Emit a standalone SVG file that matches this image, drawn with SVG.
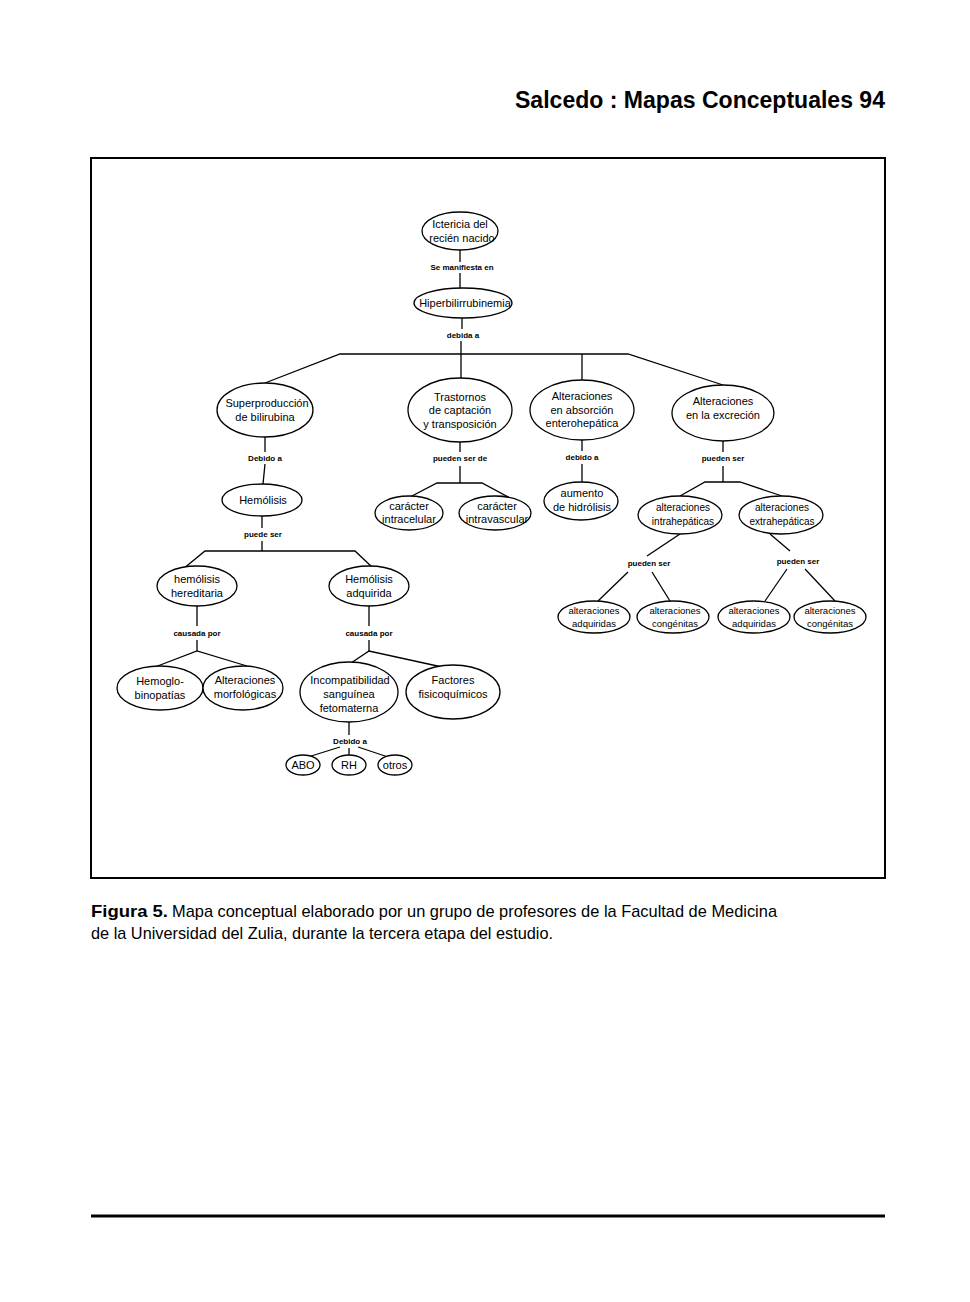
<svg xmlns="http://www.w3.org/2000/svg" width="970" height="1302" viewBox="0 0 970 1302">
<style>
.bg{fill:#fff}
ellipse{fill:#fff;stroke:#000;stroke-width:1.3}
.c line,.c polyline{stroke:#000;stroke-width:1.3;fill:none}
text{font-family:"Liberation Sans",Arial,sans-serif;fill:#000}
.n text{font-size:11px;text-anchor:middle}
.s text{font-size:9.5px}
.t text{font-size:10px}
.lb text{font-size:8px;font-weight:bold;text-anchor:middle}
</style>
<rect class="bg" x="0" y="0" width="970" height="1302"/>
<text x="885" y="108" font-size="23" font-weight="bold" text-anchor="end" textLength="370" lengthAdjust="spacingAndGlyphs">Salcedo : Mapas Conceptuales 94</text>
<rect x="91" y="158" width="794" height="720" fill="none" stroke="#000" stroke-width="2"/>
<g class="c" id="connectors">
<line x1="460" y1="250" x2="460" y2="262"/>
<line x1="460" y1="273" x2="460" y2="288"/>
<line x1="462" y1="318" x2="462" y2="329"/>
<line x1="461" y1="341" x2="461" y2="378"/>
<polyline points="265,383 340,354 628,354 723,385"/>
<line x1="582" y1="354" x2="582" y2="380"/>
<line x1="265" y1="437" x2="265" y2="452"/>
<line x1="265" y1="464" x2="263" y2="484"/>
<line x1="262" y1="516" x2="262" y2="528"/>
<line x1="262" y1="541" x2="262" y2="551"/>
<polyline points="183,569 205,551 355,551 372,567"/>
<line x1="197" y1="606" x2="197" y2="626"/>
<line x1="197" y1="640" x2="197" y2="651"/>
<polyline points="155,667 197,651 247,666"/>
<line x1="369" y1="606" x2="369" y2="626"/>
<line x1="369" y1="640" x2="369" y2="651"/>
<polyline points="351,663 369,651 442,667"/>
<line x1="349" y1="722" x2="349" y2="735"/>
<line x1="340" y1="747" x2="308" y2="757"/>
<line x1="349" y1="748" x2="349" y2="755"/>
<line x1="358" y1="747" x2="388" y2="757"/>
<line x1="460" y1="442" x2="460" y2="452"/>
<line x1="460" y1="466" x2="460" y2="483"/>
<polyline points="410,497 437,483 482,483 510,498"/>
<line x1="582" y1="440" x2="582" y2="451"/>
<line x1="582" y1="464" x2="582" y2="482"/>
<line x1="723" y1="441" x2="723" y2="452"/>
<line x1="723" y1="466" x2="723" y2="482"/>
<polyline points="680,496 705,482 740,482 782,496"/>
<line x1="680" y1="534" x2="647" y2="556"/>
<line x1="628" y1="572" x2="598" y2="601"/>
<line x1="652" y1="572" x2="670" y2="601"/>
<line x1="770" y1="534" x2="790" y2="551"/>
<line x1="787" y1="569" x2="765" y2="601"/>
<line x1="805" y1="569" x2="835" y2="601"/>
</g>
<g class="lb" id="labels">
<text x="462" y="270">Se manifiesta en</text>
<text x="463" y="338">debida a</text>
<text x="265" y="461">Debido a</text>
<text x="460" y="461">pueden ser de</text>
<text x="582" y="460">debido a</text>
<text x="723" y="461">pueden ser</text>
<text x="263" y="537">puede ser</text>
<text x="197" y="636">causada por</text>
<text x="369" y="636">causada por</text>
<text x="350" y="744">Debido a</text>
<text x="649" y="566">pueden ser</text>
<text x="798" y="564">pueden ser</text>
</g>
<g class="n">
<g id="n-ictericia"><ellipse cx="460" cy="231" rx="38" ry="19"/><text x="460" y="228">Ictericia del</text><text x="462" y="242">recién nacido</text></g>
<g id="n-hiper"><ellipse cx="463" cy="303" rx="49" ry="15"/><text x="465" y="307">Hiperbilirrubinemia</text></g>
<g id="n-super"><ellipse cx="265" cy="410" rx="48" ry="27"/><text x="267" y="407">Superproducción</text><text x="265" y="421">de bilirubina</text></g>
<g id="n-trast"><ellipse cx="460" cy="410" rx="52" ry="32"/><text x="460" y="401">Trastornos</text><text x="460" y="414">de captación</text><text x="460" y="428">y transposición</text></g>
<g id="n-absor"><ellipse cx="582" cy="410" rx="52" ry="30"/><text x="582" y="400">Alteraciones</text><text x="582" y="414">en absorción</text><text x="582" y="427">enterohepática</text></g>
<g id="n-excr"><ellipse cx="723" cy="413" rx="51" ry="28"/><text x="723" y="405">Alteraciones</text><text x="723" y="419">en la excreción</text></g>
<g id="n-hemolisis"><ellipse cx="262" cy="500" rx="40" ry="16"/><text x="263" y="504">Hemólisis</text></g>
<g id="n-hered"><ellipse cx="197" cy="586" rx="40" ry="20"/><text x="197" y="583">hemólisis</text><text x="197" y="597">hereditaria</text></g>
<g id="n-adq"><ellipse cx="369" cy="586" rx="40" ry="20"/><text x="369" y="583">Hemólisis</text><text x="369" y="597">adquirida</text></g>
<g id="n-hemoglo"><ellipse cx="160" cy="688" rx="43" ry="22"/><text x="160" y="685">Hemoglo-</text><text x="160" y="699">binopatías</text></g>
<g id="n-morfo"><ellipse cx="243" cy="688" rx="40" ry="22"/><text x="245" y="684">Alteraciones</text><text x="245" y="698">morfológicas</text></g>
<g id="n-incomp"><ellipse cx="349" cy="692" rx="49" ry="30"/><text x="350" y="684">Incompatibilidad</text><text x="349" y="698">sanguínea</text><text x="349" y="712">fetomaterna</text></g>
<g id="n-factores"><ellipse cx="453" cy="692" rx="47" ry="27"/><text x="453" y="684">Factores</text><text x="453" y="698">fisicoquímicos</text></g>
<g id="n-abo"><ellipse cx="303" cy="765" rx="17" ry="10"/><text x="303" y="769" font-size="10">ABO</text></g>
<g id="n-rh"><ellipse cx="349" cy="765" rx="17" ry="10"/><text x="349" y="769" font-size="10">RH</text></g>
<g id="n-otros"><ellipse cx="395" cy="765" rx="17" ry="10"/><text x="395" y="769" font-size="10">otros</text></g>
<g id="n-intracel"><ellipse cx="409" cy="513" rx="34" ry="17"/><text x="409" y="510">carácter</text><text x="409" y="523">intracelular</text></g>
<g id="n-intravas"><ellipse cx="495" cy="513" rx="36" ry="17"/><text x="497" y="510">carácter</text><text x="497" y="523">intravascular</text></g>
<g id="n-aumento"><ellipse cx="581" cy="501" rx="37" ry="19"/><text x="582" y="497">aumento</text><text x="582" y="511">de hidrólisis</text></g>
<g class="t" id="n-intrahep"><ellipse cx="680" cy="515" rx="42" ry="19"/><text x="683" y="511">alteraciones</text><text x="683" y="525">intrahepáticas</text></g>
<g class="t" id="n-extrahep"><ellipse cx="781" cy="515" rx="42" ry="19"/><text x="782" y="511">alteraciones</text><text x="782" y="525">extrahepáticas</text></g>
<g class="s" id="n-adq1"><ellipse cx="594" cy="617" rx="36" ry="16"/><text x="594" y="614">alteraciones</text><text x="594" y="627">adquiridas</text></g>
<g class="s" id="n-cong1"><ellipse cx="673" cy="617" rx="36" ry="16"/><text x="675" y="614">alteraciones</text><text x="675" y="627">congénitas</text></g>
<g class="s" id="n-adq2"><ellipse cx="754" cy="617" rx="36" ry="16"/><text x="754" y="614">alteraciones</text><text x="754" y="627">adquiridas</text></g>
<g class="s" id="n-cong2"><ellipse cx="830" cy="617" rx="36" ry="16"/><text x="830" y="614">alteraciones</text><text x="830" y="627">congénitas</text></g>
</g>
<text x="91" y="917" font-size="17" font-weight="bold" textLength="77" lengthAdjust="spacingAndGlyphs">Figura 5.</text>
<text x="172" y="917" font-size="17" textLength="605" lengthAdjust="spacingAndGlyphs">Mapa conceptual elaborado por un grupo de profesores de la Facultad de Medicina</text>
<text x="91" y="939" font-size="17" textLength="462" lengthAdjust="spacingAndGlyphs">de la Universidad del Zulia, durante la tercera etapa del estudio.</text>
<line x1="91" y1="1216" x2="885" y2="1216" stroke="#000" stroke-width="3"/>
</svg>
